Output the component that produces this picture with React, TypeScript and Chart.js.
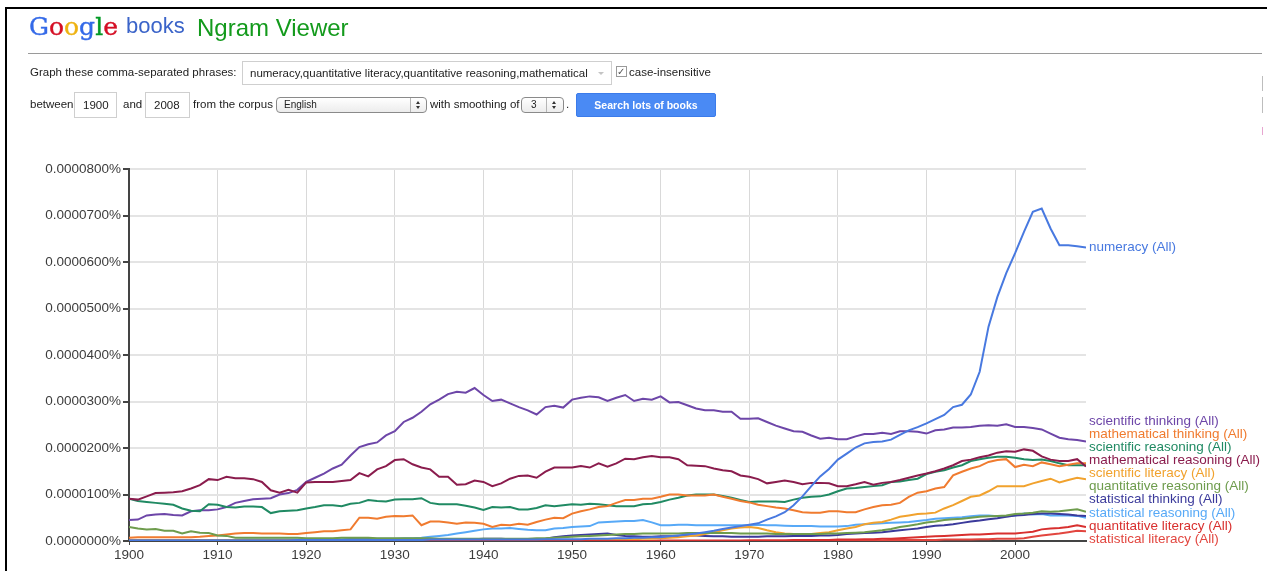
import React, { useEffect, useRef } from "react";
import { Chart, registerables } from "chart.js";

Chart.register(...registerables);

// x categories: years 1900..2008
const YEARS: number[] = Array.from({ length: 109 }, (_, i) => 1900 + i);

// All values in units of 0.00001 %  (1 = 0.0000100%)
const numeracy = [
  0.01, 0.01, 0.01, 0.01, 0.01, 0.01, 0.01, 0.01, 0.01, 0.01,
  0.01, 0.01, 0.01, 0.01, 0.01, 0.01, 0.01, 0.01, 0.01, 0.02,
  0.02, 0.02, 0.02, 0.02, 0.02, 0.02, 0.02, 0.02, 0.02, 0.02,
  0.02, 0.02, 0.02, 0.02, 0.03, 0.03, 0.03, 0.03, 0.03, 0.03,
  0.03, 0.03, 0.03, 0.03, 0.03, 0.03, 0.03, 0.04, 0.04, 0.04,
  0.04, 0.04, 0.05, 0.05, 0.05, 0.06, 0.06, 0.07, 0.07, 0.08,
  0.08, 0.10, 0.12, 0.14, 0.16, 0.19, 0.22, 0.26, 0.29, 0.32,
  0.35, 0.38, 0.46, 0.53, 0.62, 0.77, 0.96, 1.18, 1.39, 1.55,
  1.75, 1.88, 2.01, 2.10, 2.13, 2.14, 2.18, 2.28, 2.38, 2.45,
  2.53, 2.62, 2.71, 2.88, 2.93, 3.15, 3.64, 4.61, 5.25, 5.76,
  6.19, 6.65, 7.08, 7.15, 6.72, 6.36, 6.36, 6.34, 6.31,
];

const quantitativeLiteracy = [
  0, 0, 0, 0, 0, 0, 0, 0, 0, 0,
  0, 0, 0, 0, 0, 0, 0, 0, 0, 0,
  0, 0, 0, 0, 0, 0, 0, 0, 0, 0,
  0, 0, 0, 0, 0, 0, 0, 0, 0, 0,
  0, 0, 0, 0, 0, 0, 0, 0, 0, 0,
  0, 0, 0, 0, 0, 0, 0, 0, 0, 0,
  0.01, 0.01, 0.01, 0.01, 0.01, 0.01, 0.01, 0.01, 0.01, 0.01,
  0.01, 0.01, 0.01, 0.01, 0.01, 0.02, 0.02, 0.02, 0.02, 0.02,
  0.03, 0.03, 0.03, 0.04, 0.04, 0.05, 0.05, 0.06, 0.07, 0.08,
  0.09, 0.10, 0.11, 0.12, 0.13, 0.14, 0.14, 0.15, 0.16, 0.16,
  0.16, 0.18, 0.20, 0.25, 0.27, 0.28, 0.30, 0.34, 0.30,
];

const quantitativeReasoning = [
  0.30, 0.27, 0.25, 0.26, 0.22, 0.22, 0.16, 0.21, 0.18, 0.17,
  0.12, 0.11, 0.07, 0.07, 0.07, 0.07, 0.07, 0.07, 0.07, 0.07,
  0.06, 0.06, 0.06, 0.06, 0.07, 0.07, 0.07, 0.07, 0.06, 0.06,
  0.06, 0.06, 0.06, 0.06, 0.06, 0.05, 0.05, 0.05, 0.05, 0.05,
  0.05, 0.05, 0.05, 0.05, 0.05, 0.05, 0.06, 0.06, 0.07, 0.08,
  0.09, 0.10, 0.11, 0.12, 0.13, 0.14, 0.15, 0.15, 0.16, 0.16,
  0.16, 0.16, 0.16, 0.17, 0.17, 0.17, 0.17, 0.17, 0.17, 0.16,
  0.16, 0.16, 0.16, 0.15, 0.15, 0.15, 0.15, 0.15, 0.15, 0.16,
  0.16, 0.17, 0.18, 0.19, 0.21, 0.23, 0.26, 0.30, 0.33, 0.36,
  0.40, 0.42, 0.45, 0.47, 0.48, 0.50, 0.52, 0.53, 0.54, 0.55,
  0.58, 0.59, 0.61, 0.64, 0.63, 0.64, 0.66, 0.68, 0.63,
];

const mathematicalReasoning = [
  0.91, 0.89, 0.96, 1.03, 1.04, 1.05, 1.07, 1.13, 1.20, 1.33,
  1.31, 1.38, 1.35, 1.35, 1.33, 1.27, 1.09, 1.04, 1.10, 1.04,
  1.26, 1.27, 1.27, 1.27, 1.29, 1.31, 1.46, 1.39, 1.54, 1.61,
  1.74, 1.76, 1.65, 1.58, 1.54, 1.38, 1.38, 1.21, 1.22, 1.30,
  1.27, 1.18, 1.24, 1.34, 1.40, 1.41, 1.36, 1.49, 1.58, 1.58,
  1.58, 1.61, 1.58, 1.67, 1.60, 1.67, 1.77, 1.76, 1.80, 1.83,
  1.80, 1.80, 1.76, 1.63, 1.62, 1.61, 1.56, 1.52, 1.50, 1.41,
  1.38, 1.33, 1.24, 1.27, 1.30, 1.27, 1.22, 1.25, 1.25, 1.24,
  1.18, 1.18, 1.22, 1.27, 1.21, 1.25, 1.27, 1.31, 1.36, 1.41,
  1.45, 1.50, 1.56, 1.63, 1.72, 1.75, 1.80, 1.84, 1.90, 1.93,
  1.92, 1.97, 1.94, 1.82, 1.75, 1.72, 1.72, 1.76, 1.60,
];

const mathematicalThinking = [
  0.07, 0.08, 0.08, 0.08, 0.08, 0.08, 0.08, 0.08, 0.09, 0.11,
  0.12, 0.14, 0.16, 0.17, 0.17, 0.16, 0.16, 0.16, 0.15, 0.15,
  0.17, 0.19, 0.21, 0.21, 0.23, 0.25, 0.50, 0.50, 0.48, 0.52,
  0.54, 0.53, 0.55, 0.34, 0.42, 0.42, 0.40, 0.37, 0.40, 0.39,
  0.37, 0.30, 0.35, 0.34, 0.37, 0.35, 0.41, 0.46, 0.50, 0.49,
  0.59, 0.64, 0.68, 0.73, 0.75, 0.82, 0.88, 0.88, 0.91, 0.91,
  0.95, 1.00, 1.00, 0.98, 0.98, 0.98, 1.00, 0.95, 0.91, 0.86,
  0.83, 0.78, 0.75, 0.72, 0.70, 0.66, 0.62, 0.61, 0.61, 0.64,
  0.64, 0.62, 0.62, 0.68, 0.73, 0.77, 0.78, 0.82, 0.95, 1.04,
  1.07, 1.13, 1.16, 1.41, 1.49, 1.56, 1.61, 1.70, 1.74, 1.76,
  1.59, 1.64, 1.61, 1.69, 1.65, 1.61, 1.64, 1.67, 1.67,
];

const scientificReasoning = [
  0.91, 0.86, 0.84, 0.82, 0.80, 0.78, 0.70, 0.65, 0.64, 0.79,
  0.78, 0.73, 0.72, 0.74, 0.74, 0.73, 0.60, 0.64, 0.65, 0.66,
  0.70, 0.73, 0.77, 0.77, 0.75, 0.80, 0.82, 0.88, 0.86, 0.85,
  0.89, 0.90, 0.90, 0.92, 0.82, 0.79, 0.79, 0.79, 0.76, 0.72,
  0.67, 0.73, 0.72, 0.73, 0.68, 0.68, 0.71, 0.77, 0.75, 0.77,
  0.79, 0.78, 0.80, 0.79, 0.77, 0.75, 0.75, 0.75, 0.79, 0.80,
  0.84, 0.89, 0.93, 0.98, 1.00, 1.00, 1.00, 0.97, 0.93, 0.88,
  0.84, 0.85, 0.85, 0.85, 0.84, 0.89, 0.93, 0.95, 0.96, 1.00,
  1.07, 1.13, 1.14, 1.16, 1.18, 1.20, 1.27, 1.28, 1.31, 1.34,
  1.44, 1.49, 1.52, 1.58, 1.63, 1.72, 1.76, 1.79, 1.81, 1.81,
  1.79, 1.76, 1.74, 1.75, 1.72, 1.67, 1.63, 1.63, 1.63,
];

const scientificThinking = [
  0.45, 0.46, 0.55, 0.57, 0.58, 0.56, 0.55, 0.64, 0.66, 0.66,
  0.68, 0.73, 0.82, 0.86, 0.90, 0.91, 0.92, 1.00, 1.03, 1.10,
  1.27, 1.36, 1.45, 1.56, 1.64, 1.84, 2.02, 2.08, 2.12, 2.27,
  2.36, 2.56, 2.65, 2.78, 2.94, 3.04, 3.16, 3.21, 3.19, 3.29,
  3.14, 3.01, 3.04, 2.96, 2.88, 2.81, 2.72, 2.88, 2.91, 2.87,
  3.04, 3.08, 3.11, 3.09, 3.01, 3.08, 3.14, 3.01, 3.06, 3.04,
  3.11, 2.98, 2.99, 2.92, 2.85, 2.81, 2.81, 2.78, 2.78, 2.63,
  2.63, 2.64, 2.56, 2.48, 2.42, 2.36, 2.35, 2.27, 2.20, 2.22,
  2.19, 2.19, 2.25, 2.30, 2.30, 2.33, 2.30, 2.36, 2.36, 2.35,
  2.31, 2.38, 2.40, 2.44, 2.44, 2.45, 2.48, 2.49, 2.48, 2.51,
  2.45, 2.45, 2.43, 2.40, 2.31, 2.22, 2.19, 2.17, 2.14,
];

const scientificLiteracy = [
  0.01, 0.01, 0.01, 0.01, 0.01, 0.01, 0.01, 0.01, 0.01, 0.01,
  0.01, 0.01, 0.01, 0.01, 0.01, 0.01, 0.01, 0.01, 0.01, 0.01,
  0.01, 0.01, 0.01, 0.01, 0.01, 0.01, 0.01, 0.01, 0.01, 0.01,
  0.01, 0.01, 0.01, 0.01, 0.01, 0.01, 0.01, 0.01, 0.01, 0.01,
  0.01, 0.01, 0.01, 0.01, 0.01, 0.01, 0.01, 0.01, 0.01, 0.01,
  0.02, 0.02, 0.02, 0.03, 0.03, 0.03, 0.04, 0.04, 0.05, 0.05,
  0.06, 0.07, 0.08, 0.10, 0.12, 0.15, 0.19, 0.23, 0.27, 0.29,
  0.30, 0.28, 0.23, 0.19, 0.16, 0.15, 0.15, 0.15, 0.17, 0.19,
  0.23, 0.27, 0.30, 0.36, 0.39, 0.41, 0.46, 0.52, 0.55, 0.58,
  0.59, 0.61, 0.70, 0.77, 0.86, 0.95, 0.98, 1.07, 1.18, 1.18,
  1.18, 1.18, 1.24, 1.29, 1.34, 1.26, 1.31, 1.36, 1.33,
];

const statisticalThinking = [
  0.01, 0.01, 0.01, 0.01, 0.01, 0.01, 0.01, 0.01, 0.01, 0.01,
  0.01, 0.01, 0.01, 0.01, 0.01, 0.01, 0.01, 0.01, 0.01, 0.01,
  0.01, 0.02, 0.02, 0.02, 0.02, 0.03, 0.03, 0.03, 0.03, 0.03,
  0.03, 0.03, 0.03, 0.03, 0.02, 0.02, 0.02, 0.02, 0.03, 0.04,
  0.05, 0.05, 0.05, 0.04, 0.04, 0.03, 0.03, 0.05, 0.08, 0.10,
  0.12, 0.13, 0.14, 0.15, 0.16, 0.13, 0.11, 0.10, 0.09, 0.09,
  0.10, 0.10, 0.11, 0.12, 0.12, 0.11, 0.10, 0.10, 0.09, 0.09,
  0.09, 0.09, 0.10, 0.10, 0.10, 0.11, 0.11, 0.11, 0.12, 0.12,
  0.13, 0.15, 0.16, 0.17, 0.18, 0.19, 0.21, 0.23, 0.25, 0.27,
  0.30, 0.33, 0.34, 0.36, 0.39, 0.42, 0.44, 0.47, 0.49, 0.52,
  0.55, 0.56, 0.58, 0.59, 0.59, 0.58, 0.57, 0.55, 0.54,
];

const statisticalReasoning = [
  0.02, 0.02, 0.02, 0.02, 0.02, 0.02, 0.02, 0.02, 0.02, 0.02,
  0.02, 0.02, 0.02, 0.03, 0.03, 0.03, 0.03, 0.03, 0.03, 0.03,
  0.03, 0.03, 0.04, 0.04, 0.04, 0.05, 0.05, 0.05, 0.05, 0.05,
  0.05, 0.06, 0.06, 0.07, 0.09, 0.11, 0.13, 0.16, 0.19, 0.22,
  0.25, 0.27, 0.27, 0.28, 0.26, 0.24, 0.23, 0.23, 0.27, 0.28,
  0.30, 0.31, 0.32, 0.40, 0.41, 0.42, 0.43, 0.43, 0.45, 0.40,
  0.34, 0.34, 0.35, 0.35, 0.34, 0.34, 0.34, 0.34, 0.34, 0.34,
  0.34, 0.35, 0.34, 0.34, 0.33, 0.32, 0.32, 0.32, 0.31, 0.31,
  0.31, 0.32, 0.35, 0.36, 0.37, 0.38, 0.39, 0.40, 0.41, 0.43,
  0.45, 0.48, 0.49, 0.50, 0.51, 0.53, 0.55, 0.55, 0.53, 0.53,
  0.55, 0.59, 0.57, 0.58, 0.55, 0.55, 0.55, 0.54, 0.50,
];

const statisticalLiteracy = [
  0, 0, 0, 0, 0, 0, 0, 0, 0, 0,
  0, 0, 0, 0, 0, 0, 0, 0, 0, 0,
  0, 0, 0, 0, 0, 0, 0, 0, 0, 0,
  0, 0, 0, 0, 0, 0, 0, 0, 0, 0,
  0, 0, 0, 0, 0, 0, 0, 0, 0, 0,
  0, 0, 0, 0, 0, 0, 0, 0, 0, 0,
  0, 0, 0, 0, 0, 0, 0, 0, 0, 0,
  0.01, 0.01, 0.01, 0.01, 0.01, 0.01, 0.01, 0.01, 0.01, 0.01,
  0.01, 0.01, 0.01, 0.01, 0.01, 0.01, 0.02, 0.02, 0.02, 0.02,
  0.02, 0.02, 0.03, 0.03, 0.03, 0.03, 0.04, 0.04, 0.05, 0.05,
  0.05, 0.06, 0.09, 0.12, 0.14, 0.16, 0.19, 0.22, 0.21,
];

const SERIES_NAMES = [
  "numeracy",
  "quantitative literacy",
  "quantitative reasoning",
  "mathematical reasoning",
  "mathematical thinking",
  "scientific reasoning",
  "scientific thinking",
  "scientific literacy",
  "statistical thinking",
  "statistical reasoning",
  "statistical literacy",
];
const SERIES_VALUES = [
  numeracy,
  quantitativeLiteracy,
  quantitativeReasoning,
  mathematicalReasoning,
  mathematicalThinking,
  scientificReasoning,
  scientificThinking,
  scientificLiteracy,
  statisticalThinking,
  statisticalReasoning,
  statisticalLiteracy,
];
const SERIES_COLORS = [
  "#4879E0",
  "#D8302F",
  "#6E9C4D",
  "#8A1C4D",
  "#F07B2F",
  "#208A63",
  "#6D46A8",
  "#F1A22E",
  "#3B3A9B",
  "#57A9F7",
  "#E2463F",
];

const FONT_FAMILY = '"Liberation Sans", Arial, Helvetica, sans-serif';

const endLabels = {
  id: "endLabels",
  afterDatasetsDraw(chart: any) {
    const { ctx, chartArea } = chart;
    const yScale = chart.scales.y;
    const H = 13.1;
    const items = chart.data.datasets.map((ds: any) => {
      const last = ds.data[ds.data.length - 1].y;
      return { text: ds.label + " (All)", color: ds.borderColor, py: yScale.getPixelForValue(last) };
    });
    items.sort((a: any, b: any) => a.py - b.py);
    let clusters = items.map((it: any) => ({ members: [it], top: 0, bottom: 0 }));
    const lay = (c: any) => {
      const n = c.members.length;
      const mean = c.members.reduce((s: number, m: any) => s + m.py, 0) / n;
      let top = mean - ((n - 1) * H) / 2;
      const maxTop = chartArea.bottom - 2 - (n - 1) * H;
      if (top > maxTop) top = maxTop;
      if (top < chartArea.top) top = chartArea.top;
      c.top = top;
      c.bottom = top + (n - 1) * H;
    };
    let changed = true;
    while (changed) {
      changed = false;
      clusters.forEach(lay);
      for (let i = 0; i < clusters.length - 1; i++) {
        if (clusters[i].bottom + H > clusters[i + 1].top) {
          clusters[i].members = clusters[i].members.concat(clusters[i + 1].members);
          clusters.splice(i + 1, 1);
          changed = true;
          break;
        }
      }
    }
    ctx.save();
    ctx.font = "13.5px " + FONT_FAMILY;
    ctx.textAlign = "left";
    ctx.textBaseline = "middle";
    clusters.forEach((c: any) => {
      c.members.forEach((m: any, k: number) => {
        ctx.fillStyle = m.color;
        ctx.fillText(m.text, chartArea.right + 3, c.top + k * H);
      });
    });
    ctx.restore();
  },
};

function T(props: { x: number; y: number; size?: number; color?: string; bold?: boolean; family?: string; children: any }) {
  const size = props.size || 11.5;
  return (
    <div
      style={{
        position: "absolute",
        left: props.x,
        top: props.y - size / 2 + 1,
        fontSize: size,
        lineHeight: size + "px",
        color: props.color || "#222",
        fontWeight: props.bold ? "bold" : "normal",
        fontFamily: props.family || FONT_FAMILY,
        whiteSpace: "nowrap",
      }}
    >
      {props.children}
    </div>
  );
}

function Box(props: { x: number; y: number; w: number; h: number; style?: any }) {
  return (
    <div
      style={{
        position: "absolute",
        left: props.x,
        top: props.y,
        width: props.w,
        height: props.h,
        boxSizing: "border-box",
        ...props.style,
      }}
    />
  );
}

function Arrows(props: { x: number; y: number }) {
  const tri = (dir: "up" | "down", top: number) => (
    <div
      style={{
        position: "absolute",
        left: props.x,
        top,
        width: 0,
        height: 0,
        borderLeft: "2.5px solid transparent",
        borderRight: "2.5px solid transparent",
        ...(dir === "up" ? { borderBottom: "3px solid #333" } : { borderTop: "3px solid #333" }),
      }}
    />
  );
  return (
    <>
      {tri("up", props.y - 4)}
      {tri("down", props.y + 1)}
    </>
  );
}

export default function App() {
  const ref = useRef<HTMLCanvasElement>(null);

  useEffect(() => {
    const canvas = ref.current;
    if (!canvas) return;
    const tickFont = { family: FONT_FAMILY, size: 13.5 };
    const chart = new Chart(canvas, {
      type: "line",
      data: {
        datasets: SERIES_NAMES.map((name, i) => ({
          label: name,
          data: YEARS.map((yr, k) => ({ x: yr, y: SERIES_VALUES[i][k] })),
          borderColor: SERIES_COLORS[i],
          backgroundColor: SERIES_COLORS[i],
          borderWidth: 2,
          pointRadius: 0,
          tension: 0,
          fill: false,
        })),
      },
      options: {
        responsive: false,
        animation: false,
        devicePixelRatio: 1,
        layout: { padding: { left: 0, top: 169, right: 181, bottom: 0 } },
        plugins: { legend: { display: false }, tooltip: { enabled: false } },
        scales: {
          x: {
            type: "linear",
            min: 1900,
            max: 2008,
            afterFit: (s: any) => {
              s.height = 30;
            },
            ticks: {
              stepSize: 10,
              includeBounds: false,
              autoSkip: false,
              maxRotation: 0,
              padding: 2,
              color: "#3c3c3c",
              font: tickFont,
              callback: (v: any) => String(v),
            },
            grid: { color: "#d9d9d9", lineWidth: 1, tickLength: 4, tickColor: "#444", drawTicks: true },
            border: { color: "#444", width: 2 },
          },
          y: {
            min: 0,
            max: 8,
            afterFit: (s: any) => {
              s.width = 129;
            },
            ticks: {
              stepSize: 1,
              padding: 2,
              color: "#3c3c3c",
              font: tickFont,
              callback: (v: any) => (Number(v) * 0.00001).toFixed(7) + "%",
            },
            grid: { color: "#e4e4e4", lineWidth: 2, tickLength: 6, tickColor: "#444" },
            border: { color: "#444", width: 2 },
          },
        },
      },
      plugins: [endLabels],
    } as any);
    return () => chart.destroy();
  }, []);

  return (
    <div
      style={{
        position: "absolute",
        left: 0,
        top: 0,
        width: 1267,
        height: 571,
        background: "#fff",
        overflow: "hidden",
        fontFamily: FONT_FAMILY,
      }}
    >
      <canvas ref={ref} width={1267} height={571} style={{ position: "absolute", left: 0, top: 0, width: 1267, height: 571 }} />

      {/* frame */}
      <Box x={5} y={7} w={1262} h={2} style={{ background: "#000" }} />
      <Box x={5} y={7} w={2} h={564} style={{ background: "#000" }} />

      {/* logo */}
      <div
        style={{
          position: "absolute",
          left: 29,
          top: 14,
          fontSize: 25,
          lineHeight: "25px",
          fontFamily: '"DejaVu Serif", "Liberation Serif", serif',
          whiteSpace: "nowrap",
          WebkitTextStroke: "0.4px currentColor",
        }}
      >
        <span style={{ color: "#3369E8" }}>G</span>
        <span style={{ color: "#D50F25" }}>o</span>
        <span style={{ color: "#EEB211" }}>o</span>
        <span style={{ color: "#3369E8" }}>g</span>
        <span style={{ color: "#009925" }}>l</span>
        <span style={{ color: "#D50F25" }}>e</span>
      </div>
      <div style={{ position: "absolute", left: 126, top: 15, fontSize: 22, lineHeight: "22px", color: "#3B64C9", whiteSpace: "nowrap" }}>
        books
      </div>
      <div style={{ position: "absolute", left: 197, top: 16, fontSize: 24, lineHeight: "24px", color: "#139A1C", whiteSpace: "nowrap" }}>
        Ngram Viewer
      </div>
      <Box x={28} y={53} w={1234} h={1} style={{ background: "#9a9a9a" }} />

      {/* row 1 */}
      <T x={30} y={72}>Graph these comma-separated phrases:</T>
      <Box x={242} y={61} w={370} h={24} style={{ border: "1px solid #cfcfcf", background: "#fff" }} />
      <T x={250} y={73}>numeracy,quantitative literacy,quantitative reasoning,mathematical</T>
      <div
        style={{
          position: "absolute",
          left: 598,
          top: 72,
          width: 0,
          height: 0,
          borderLeft: "3px solid transparent",
          borderRight: "3px solid transparent",
          borderTop: "3px solid #c4c4c4",
        }}
      />
      <Box x={616} y={66} w={11} h={11} style={{ border: "1px solid #9a9a9a", background: "#fff" }} />
      <T x={617} y={71} size={10} color="#555" family='"DejaVu Sans", sans-serif'>✓</T>
      <T x={629} y={72}>case-insensitive</T>

      {/* row 2 */}
      <T x={30} y={104}>between</T>
      <Box x={74} y={92} w={43} h={26} style={{ border: "1px solid #cfcfcf", background: "#fff" }} />
      <T x={83} y={105}>1900</T>
      <T x={123} y={104}>and</T>
      <Box x={145} y={92} w={45} h={26} style={{ border: "1px solid #cfcfcf", background: "#fff" }} />
      <T x={154} y={105}>2008</T>
      <T x={193} y={104}>from the corpus</T>
      <Box
        x={276}
        y={97}
        w={151}
        h={16}
        style={{ border: "1px solid #8a8a8a", borderRadius: 4, background: "linear-gradient(#ffffff, #ececec)" }}
      />
      <Box x={410} y={98} w={1} h={14} style={{ background: "#b5b5b5" }} />
      <T x={284} y={104} size={10}>English</T>
      <Arrows x={416} y={105} />
      <T x={430} y={104}>with smoothing of</T>
      <Box
        x={521}
        y={97}
        w={43}
        h={16}
        style={{ border: "1px solid #8a8a8a", borderRadius: 4, background: "linear-gradient(#ffffff, #ececec)" }}
      />
      <Box x={546} y={98} w={1} h={14} style={{ background: "#b5b5b5" }} />
      <T x={531} y={104} size={10}>3</T>
      <Arrows x={552} y={105} />
      <T x={566} y={104}>.</T>
      <div
        style={{
          position: "absolute",
          left: 576,
          top: 93,
          width: 140,
          height: 24,
          boxSizing: "border-box",
          background: "#4A8AF4",
          border: "1px solid #3B7BEA",
          borderRadius: 2,
          color: "#fff",
          fontSize: 10.5,
          fontWeight: "bold",
          lineHeight: "22px",
          textAlign: "center",
          whiteSpace: "nowrap",
        }}
      >
        Search lots of books
      </div>

      {/* right-edge fragments */}
      <Box x={1262} y={76} w={1} h={15} style={{ background: "#bdbdbd" }} />
      <Box x={1262} y={97} w={1} h={16} style={{ background: "#bdbdbd" }} />
      <Box x={1262} y={127} w={1} h={8} style={{ background: "#e7a6d0" }} />
    </div>
  );
}
